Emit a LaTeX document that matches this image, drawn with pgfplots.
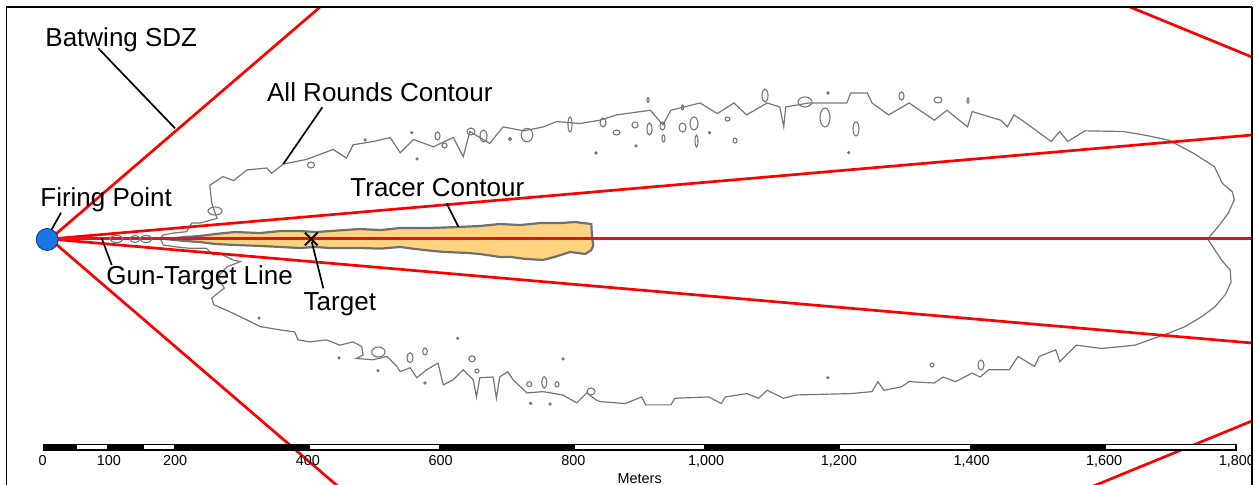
\documentclass[border=0pt]{standalone}
\usepackage{fontspec}
\setmainfont{Liberation Sans}
\usepackage{pgfplots}
\pgfplotsset{compat=1.18}
\usetikzlibrary{shapes.geometric}
\definecolor{cgray}{RGB}{118,118,118}
\definecolor{tgray}{RGB}{112,112,112}
\definecolor{tfill}{RGB}{255,211,127}
\definecolor{sdzred}{RGB}{255,0,0}
\definecolor{gtred}{RGB}{228,18,38}
\definecolor{fpblue}{RGB}{24,118,228}
\definecolor{fpedge}{RGB}{20,50,120}
\newcommand{\biglabel}{\fontsize{13}{15}\selectfont}
\newcommand{\smalllabel}{\fontsize{7.2}{8.5}\selectfont}
\begin{document}
\begin{tikzpicture}
\useasboundingbox (0,0) rectangle (627.5pt,242.5pt);
\begin{axis}[name=ax, at={(3.15pt,0pt)}, anchor=south west,
  scale only axis, width=622.85pt, height=238.85pt,
  xmin=-54.6, xmax=1822.7, ymin=-370.7, ymax=349.2,
  hide axis]

% All rounds contour (meters)
\addplot[cgray, line width=0.6pt] coordinates {
(177,1) (182,6) (197,9) (217,11) (225,24) (237,24) (263,31) (255,54) (252,81) (272,94) (288,88) (308,104) (338,107) (345,99) (363,113) (398,120) (438,135) (458,122) (468,142) (499,147) (524,153) (539,130) (559,150) (589,139) (619,153) (634,124) (644,162) (674,144) (694,169) (725,163) (755,169) (775,177) (810,174) (840,179) (865,187) (916,194) (935,172) (947,194) (991,205) (1017,189) (1042,205) (1061,187) (1092,205) (1111,199) (1117,169) (1120,199) (1155,205) (1212,205) (1218,220) (1243,220) (1250,205) (1275,187) (1306,205) (1344,179) (1363,194) (1394,169) (1401,192) (1444,179) (1454,169) (1464,187) (1476,179) (1520,147) (1533,162) (1545,147) (1571,163) (1628,162) (1659,157) (1697,149) (1735,129) (1766,109) (1778,84) (1793,71) (1796,59) (1787,39) (1772,19) (1756,0)
(1767,-17) (1777,-32) (1790,-47) (1791,-65) (1783,-83) (1767,-102) (1747,-117) (1722,-132) (1697,-142) (1646,-160) (1596,-165) (1558,-160) (1533,-185) (1527,-167) (1502,-177) (1495,-192) (1470,-177) (1457,-197) (1426,-197) (1413,-208) (1401,-202) (1376,-215) (1357,-208) (1344,-217) (1306,-215) (1294,-223) (1268,-228) (1259,-215) (1250,-230) (1218,-233) (1136,-235) (1117,-240) (1092,-228) (1079,-240) (1061,-233) (1029,-238) (1023,-248) (1004,-238) (953,-240) (947,-250) (909,-250) (903,-238) (878,-248) (840,-245) (835,-243) (820,-232) (805,-247) (784,-235) (754,-230) (730,-232) (709,-212) (701,-200) (689,-208) (684,-240) (679,-208) (659,-209) (654,-238) (649,-212) (634,-197) (619,-212) (604,-220) (596,-187) (579,-197) (564,-209) (554,-194) (539,-200) (534,-192) (519,-177) (498,-182) (473,-180) (483,-175) (481,-162) (468,-155) (448,-160) (428,-152) (403,-155) (385,-152) (380,-140) (358,-137) (328,-132) (308,-122) (283,-110) (258,-99) (255,-89) (274,-74) (264,-57) (278,-42) (298,-34) (288,-32) (267,-22) (257,-24) (247,-14) (222,-14) (202,-12) (182,-9) (177,1)
};

% Small isolated contour islands: centre (m), width and height (pt)
\addplot[draw=none,
  visualization depends on={value \thisrow{w}\as\iw},
  visualization depends on={value \thisrow{h}\as\ih},
  nodes near coords={},
  every node near coord/.append style={anchor=center, ellipse, draw=cgray, line width=0.55pt, inner sep=0pt, outer sep=0pt, minimum width=\iw pt, minimum height=\ih pt}]
table {
x y w h
111.5 0 6.5 3.5
139.4 0 5 3.5
156 0 6 3.5
260 42.2 7 4
404.6 111.5 3.5 3
486 149.2 1 1
556.4 160.2 1 1
595.3 155.2 2.5 4
605.8 140.9 2.5 2.5
564.4 120.6 1 1
645.7 162 4 3.5
664.6 155.2 3.5 6
704.5 150.7 1.5 1.5
730.1 156.7 5.8 6.7
794.9 172.6 2 7.5
844.7 175.6 3 4.5
834.1 129.6 1 1
865 160.5 3.5 2.5
892.9 171.8 3 3
894.4 140.2 1 1
914.7 165.8 2.5 6
912.5 209.5 1 2.5
934.3 170.3 2.5 4
935.8 151.5 1.5 3.5
964.5 168 3.5 4.5
964.5 198.2 1 2.5
981.8 174.1 4 6.5
985.6 147.7 1.5 6
1005.2 160.2 1 1
1032.3 180.8 2.5 2
1043.6 148.4 2 2.5
1088.8 216.3 3 6.5
1149.1 206.5 7 5
1183.7 220 1 1
1179.2 183.1 5 9.5
1225.9 165.8 3 7
1214.9 130.1 1 1
1294.5 215.5 2.5 4
1349.5 209.5 4 3
1394.7 208.7 1 2.5
326.3 -119.1 1 1
446.8 -179.3 1 1
506.1 -170.3 6.7 5
505.6 -198.5 1 1
553.8 -178.9 3 5
576.4 -169.5 2.3 3.5
625.7 -149.6 1 1
576.4 -217 1 1
647.3 -180.5 3.2 3
654.8 -198.9 2 2
784.4 -180.8 1 1
733.6 -218.8 2.7 2.5
756.1 -216 2.5 5.7
775.3 -219 2 2.7
826.6 -229.8 4 3.5
735.7 -247.6 1 1
764.8 -248.7 1 1
1183.4 -209 1 1
1340.5 -189.9 2 2
1414.3 -189.9 3 5
};

% Tracer contour
\addplot[draw=tgray, line width=1.1pt, fill=tfill] coordinates {
(185,0) (215,3) (237,4.5) (260,7.5) (290,10.5) (328,9) (358,12) (388,12) (412,10.5) (433,12) (478,15) (510,13.5) (539,16.6) (584,16.6) (625,18) (659,19.6) (689,22.6) (720,21) (750,24) (780,24) (803,25.6) (815,24) (827,22.6) (828,5) (830,-10) (827,-16.6) (818,-22.6) (795,-19.6) (772,-27) (754,-31.6) (727,-30) (705,-27) (689,-27) (659,-22.6) (640,-21) (607,-19.6) (588,-18) (561,-15) (539,-12) (510,-14.5) (478,-13.6) (433,-13.6) (410,-12) (388,-13.6) (358,-12) (328,-10.5) (290,-9) (260,-7.5) (237,-4.5) (215,-3) (185,0)
} -- cycle;

% Batwing SDZ and fan lines
\addplot[sdzred, line width=1.35pt] coordinates {(11.3,0) (520,437)};
\addplot[sdzred, line width=1.35pt] coordinates {(11.3,0) (520,-437)};
\addplot[sdzred, line width=1.35pt] coordinates {(11.3,0) (1900,163.4)};
\addplot[sdzred, line width=1.35pt] coordinates {(11.3,0) (1900,-163.4)};
\addplot[sdzred, line width=1.35pt] coordinates {(1550,386.1) (1900,242.5)};
\addplot[sdzred, line width=1.35pt] coordinates {(1550,-386.1) (1900,-242.5)};
% Gun-target line
\addplot[gtred, line width=1.5pt] coordinates {(11.3,0) (1900,0)};

% Target and firing point
\addplot[only marks, mark=x, mark size=4.5pt, mark options={black, line width=1pt}] coordinates {(405,0)};
\addplot[only marks, mark=*, mark size=5.5pt, mark options={fill=fpblue, draw=fpedge, line width=0.4pt}] coordinates {(7.1,-0.75)};

% Leader lines
\draw[black, line width=0.85pt] (axis cs:84.1,287.4) -- (axis cs:199.7,166.8);
\draw[black, line width=0.85pt] (axis cs:421.7,198.5) -- (axis cs:362.9,113.0);
\draw[black, line width=0.85pt] (axis cs:27.9,39.6) -- (axis cs:6.3,1.1);
\draw[black, line width=0.85pt] (axis cs:609.1,53.8) -- (axis cs:626.6,18.5);
\draw[black, line width=0.85pt] (axis cs:104.3,-39.2) -- (axis cs:89.2,1.1);
\draw[black, line width=0.85pt] (axis cs:423.2,-74.3) -- (axis cs:405.7,-4.1);

% Labels
\node[anchor=base west, inner sep=0pt, font=\biglabel] at (axis cs:3.8,289.8) {Batwing SDZ};
\node[anchor=base west, inner sep=0pt, font=\biglabel] at (axis cs:337.9,206.9) {All Rounds Contour};
\node[anchor=base west, inner sep=0pt, font=\biglabel] at (axis cs:-3.8,48.7) {Firing Point};
\node[anchor=base west, inner sep=0pt, font=\biglabel] at (axis cs:463.4,63.3) {Tracer Contour};
\node[anchor=base west, inner sep=0pt, font=\biglabel] at (axis cs:95.7,-69.3) {Gun-Target Line};
\node[anchor=base west, inner sep=0pt, font=\biglabel] at (axis cs:393.0,-108.5) {Target};

% Scale bar
\fill[black] (axis cs:0,-308.2) rectangle (axis cs:1800,-319.5);
\fill[white] (axis cs:52.5,-310.6) rectangle (axis cs:97.5,-317.1);
\fill[white] (axis cs:152.5,-310.6) rectangle (axis cs:197.5,-317.1);
\fill[white] (axis cs:402.5,-310.6) rectangle (axis cs:597.5,-317.1);
\fill[white] (axis cs:802.5,-310.6) rectangle (axis cs:997.5,-317.1);
\fill[white] (axis cs:1202.5,-310.6) rectangle (axis cs:1397.5,-317.1);
\fill[white] (axis cs:1602.5,-310.6) rectangle (axis cs:1797.5,-317.1);
\node[anchor=base, inner sep=0pt, font=\smalllabel] at (axis cs:0,-341.6) {0};
\node[anchor=base, inner sep=0pt, font=\smalllabel] at (axis cs:100,-341.6) {100};
\node[anchor=base, inner sep=0pt, font=\smalllabel] at (axis cs:200,-341.6) {200};
\node[anchor=base, inner sep=0pt, font=\smalllabel] at (axis cs:400,-341.6) {400};
\node[anchor=base, inner sep=0pt, font=\smalllabel] at (axis cs:600,-341.6) {600};
\node[anchor=base, inner sep=0pt, font=\smalllabel] at (axis cs:800,-341.6) {800};
\node[anchor=base, inner sep=0pt, font=\smalllabel] at (axis cs:1000,-341.6) {1,000};
\node[anchor=base, inner sep=0pt, font=\smalllabel] at (axis cs:1200,-341.6) {1,200};
\node[anchor=base, inner sep=0pt, font=\smalllabel] at (axis cs:1400,-341.6) {1,400};
\node[anchor=base, inner sep=0pt, font=\smalllabel] at (axis cs:1600,-341.6) {1,600};
\node[anchor=base, inner sep=0pt, font=\smalllabel] at (axis cs:1800,-341.6) {1,800};
\node[anchor=base, inner sep=0pt, font=\smalllabel] at (axis cs:900,-368.2) {Meters};
\end{axis}
\draw[black, line width=0.8pt] (ax.south west) -- (ax.north west);
\draw[black, line width=1pt] (ax.north west) -- (ax.north east);
\draw[black, line width=0.8pt] (ax.north east) -- (ax.south east);
\end{tikzpicture}
\end{document}
